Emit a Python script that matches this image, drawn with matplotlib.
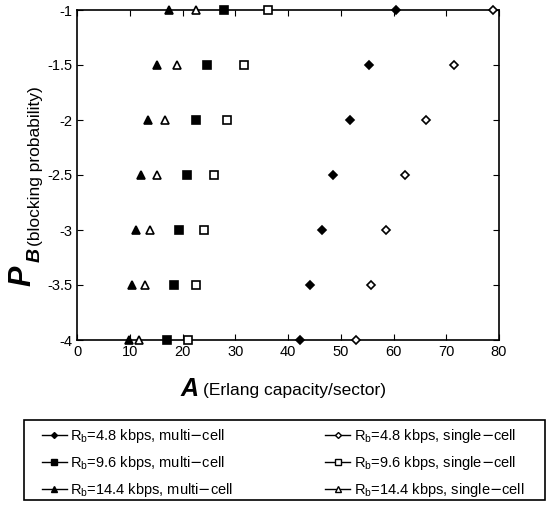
import matplotlib.pyplot as plt
from matplotlib.lines import Line2D
from matplotlib.patches import Rectangle

plt.rcParams['font.family'] = ['Liberation Sans', 'DejaVu Sans']

# blocking probability (log10) levels
pb = [-1, -1.5, -2, -2.5, -3, -3.5, -4]

# Erlang capacity per sector
a_48_multi = [60.4, 55.4, 51.8, 48.6, 46.4, 44.2, 42.3]
a_96_multi = [27.9, 24.6, 22.6, 20.8, 19.4, 18.3, 17.0]
a_144_multi = [17.5, 15.1, 13.5, 12.1, 11.2, 10.4, 9.9]
a_48_single = [78.8, 71.4, 66.2, 62.1, 58.6, 55.7, 52.9]
a_96_single = [36.3, 31.6, 28.5, 26.0, 24.1, 22.6, 21.0]
a_144_single = [22.5, 19.0, 16.7, 15.1, 13.9, 12.8, 11.8]

labels = [
    r"R$_\mathregular{b}$=4.8 kbps, multi$-$cell",
    r"R$_\mathregular{b}$=9.6 kbps, multi$-$cell",
    r"R$_\mathregular{b}$=14.4 kbps, multi$-$cell",
    r"R$_\mathregular{b}$=4.8 kbps, single$-$cell",
    r"R$_\mathregular{b}$=9.6 kbps, single$-$cell",
    r"R$_\mathregular{b}$=14.4 kbps, single$-$cell",
]

fig = plt.figure(figsize=(5.46, 5.05), dpi=100)
ax = fig.add_axes([77 / 546, 1 - 340 / 505, 422 / 546, 330 / 505])

# order matches legend (column-wise fill): multi-cell first, then single-cell
series = [
    (a_48_multi, 'D', 'k', 4.5),
    (a_96_multi, 's', 'k', 5.5),
    (a_144_multi, '^', 'k', 5.5),
    (a_48_single, 'D', 'w', 4.5),
    (a_96_single, 's', 'w', 5.5),
    (a_144_single, '^', 'w', 5.5),
]
handles = []
for (xs, m, fc, ms), lab in zip(series, labels):
    ax.plot(xs, pb, linestyle='none', marker=m, mfc=fc, mec='k', mew=1.2,
            ms=ms, clip_on=False, zorder=3)
    handles.append(Line2D([], [], color='k', lw=1, marker=m, mfc=fc, mec='k',
                          mew=1, ms=ms - 1.5, label=lab))

ax.set_xlim(0, 80)
ax.set_ylim(-4, -1)
ax.set_xticks(range(0, 81, 10))
ax.set_yticks(pb[::-1])
ax.set_yticklabels(['-4', '-3.5', '-3', '-2.5', '-2', '-1.5', '-1'])
ax.tick_params(direction='in', top=True, right=True, length=4, labelsize=10.5)
for s in ax.spines.values():
    s.set_linewidth(1.2)

# axis labels
fig.text(190 / 546, 1 - 389 / 505, 'A', fontsize=18, fontweight='bold',
         fontstyle='italic', ha='center', va='center')
fig.text(203 / 546, 1 - 390 / 505, '(Erlang capacity/sector)', fontsize=12.5,
         ha='left', va='center')
fig.text(22 / 546, 1 - 276 / 505, 'P', fontsize=22, fontweight='bold',
         fontstyle='italic', rotation=90, ha='center', va='center')
fig.text(35 / 546, 1 - 255 / 505, 'B', fontsize=14, fontweight='bold',
         fontstyle='italic', rotation=90, ha='center', va='center')
fig.text(36 / 546, 1 - 246 / 505, '(blocking probability)', fontsize=12.5,
         rotation=90, ha='center', va='bottom')

leg = fig.legend(handles=handles, ncol=2, loc='upper left',
                 bbox_to_anchor=(42 / 546, 1 - 427 / 505),
                 fontsize=10.5, frameon=False,
                 handlelength=1.7, handletextpad=0.25,
                 labelspacing=0.62, borderaxespad=0, borderpad=0,
                 columnspacing=6.3)
fig.patches.append(Rectangle((24 / 546, 1 - 500 / 505), 521 / 546, 80 / 505,
                             transform=fig.transFigure, fill=False,
                             edgecolor='k', lw=1.2))

fig.savefig('out.png', dpi=100)
